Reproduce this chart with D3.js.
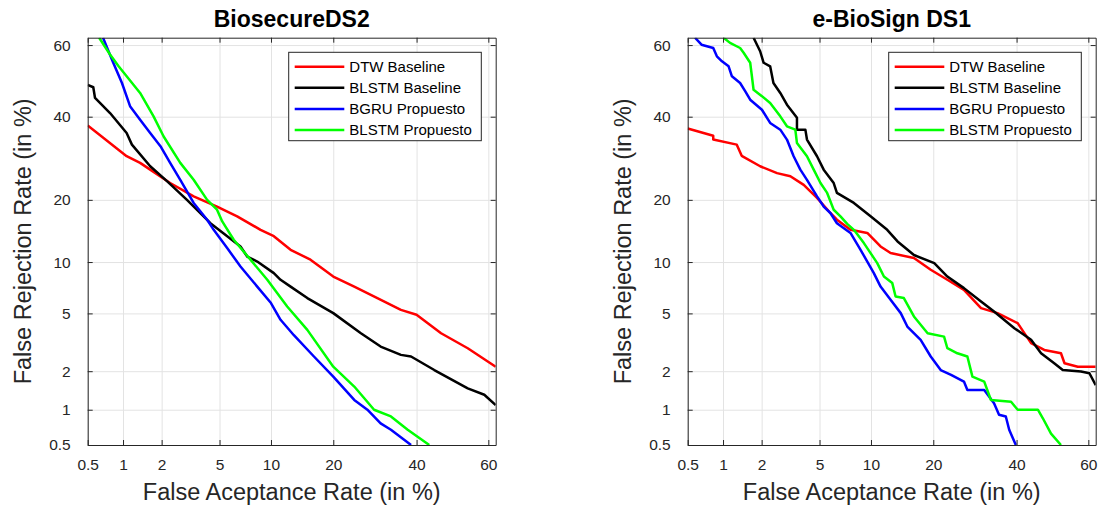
<!DOCTYPE html>
<html lang="en">
<head>
<meta charset="utf-8">
<title>DET curves</title>
<script src="https://d3js.org/d3.v7.min.js"></script>
<style>
  body { margin: 0; background: #fff; }
  text { font-family: "Liberation Sans", Arial, sans-serif; }
</style>
</head>
<body>
<script>
// tick values (in %) shared by both axes
var tickValues = [0.5, 1, 2, 5, 10, 20, 40, 60];
var tickLabels = ["0.5", "1", "2", "5", "10", "20", "40", "60"];
var axisMin = 0.5, axisMax = 62;

var seriesNames = ["DTW Baseline", "BLSTM Baseline", "BGRU Propuesto", "BLSTM Propuesto"];
var seriesColors = ["#ff0000", "#000000", "#0000ff", "#00ff00"];
var titles = ["BiosecureDS2", "e-BioSign DS1"];

// [FAR %, FRR %]
var ds2Dtw = [[0.5,37.6],[1.07,29.7],[1.37,28.1],[1.64,26.5],[2.31,23.5],[3.38,20.7],[4.82,18.7],[6.42,16.9],[8.77,14.6],[10.36,13.6],[12.65,11.6],[15.8,10.3],[20,8.32],[24.4,7.28],[29.8,6.22],[35.8,5.26],[40,4.9],[46.8,3.71],[54.3,2.93],[62,2.16]];
var ds2Blstm = [[0.5,48.9],[0.56,48.2],[0.58,45.2],[0.78,41.0],[1.07,35.6],[1.18,32.6],[1.64,27.3],[2.19,23.9],[3.04,20.0],[4.37,15.7],[6.72,12.07],[7.36,10.7],[8.4,10.06],[10.36,8.69],[11.24,7.97],[12.65,7.28],[15.27,6.22],[20,5.02],[25.9,3.71],[30.6,3.01],[35.8,2.63],[38.5,2.56],[44.9,2.04],[54.3,1.48],[58.9,1.32],[62,1.09]];
var ds2Bgru = [[0.68,62],[0.83,55.1],[0.98,49.4],[1.14,42.9],[1.37,39.2],[1.64,35.6],[1.96,32.2],[2.31,28.1],[2.73,24.2],[3.38,19.4],[4.16,16.3],[4.59,14.6],[5.58,11.85],[6.72,9.46],[8.4,7.28],[10,5.8],[11.24,4.55],[13.14,3.6],[16.4,2.56],[20,1.82],[24.4,1.2],[27.4,1.0],[30.6,0.77],[33.2,0.68],[38.5,0.5]];
var ds2BlstmP = [[0.63,62],[0.78,57.4],[0.92,54.1],[1.07,51.3],[1.37,46.6],[1.74,40.1],[2.07,34.7],[2.73,28.1],[3.38,24.2],[4.16,20.0],[4.82,18.1],[5.2,16.0],[6.12,13.05],[7.69,10.3],[9.55,7.97],[12.16,5.52],[15.27,3.91],[20,2.16],[24.4,1.53],[29.0,1.0],[33.2,0.88],[37.6,0.68],[43.5,0.5]];

var ebsDtw = [[0.5,36.8],[0.83,34.9],[0.83,33.9],[1.29,32.6],[1.41,29.8],[1.95,27.3],[2.59,25.7],[3.21,25.0],[3.95,23.1],[4.82,20.4],[5.84,17.5],[6.4,16.3],[7.69,14.6],[9.55,14.1],[11.24,12.07],[12.65,11.16],[16.4,10.5],[19.5,9.07],[22.9,7.97],[26.6,6.97],[30.7,5.4],[34.9,5.02],[40.3,4.33],[44.0,3.18],[47.7,2.85],[52.4,2.7],[53.4,2.29],[57.1,2.16],[62,2.16]];
var ebsBlstm = [[1.74,62],[1.95,58.3],[2.07,55.1],[2.31,54.1],[2.44,49.4],[2.73,46.6],[3.04,43.3],[3.56,39.7],[3.56,36.5],[4.05,36.5],[4.15,33.9],[4.82,29.7],[5.31,26.5],[6.12,23.5],[6.4,21.4],[8.04,19.4],[9.95,16.9],[12.16,14.6],[13.7,12.8],[16.4,10.9],[20.2,9.87],[22.9,8.32],[26.6,7.13],[30.7,5.93],[34.0,5.14],[39.4,4.01],[44.0,3.35],[46.8,2.7],[50.5,2.29],[52.9,2.04],[58.0,1.99],[60.3,1.93],[62,1.57]];
var ebsBgru = [[0.58,62],[0.66,60.1],[0.83,59.2],[0.89,56.9],[0.98,55.5],[1.11,54.1],[1.18,51.3],[1.37,49.4],[1.5,47.1],[1.64,44.7],[2.01,41.9],[2.31,38.3],[2.73,36.5],[3.04,33.9],[3.38,29.7],[3.75,26.5],[4.15,24.2],[4.82,20.7],[5.31,18.7],[5.84,17.5],[6.4,15.7],[7.69,14.1],[8.77,11.6],[10.36,8.69],[11.24,7.28],[12.65,6.07],[14.2,5.02],[15.27,4.11],[17.6,3.35],[19.5,2.56],[21.5,2.04],[23.7,1.88],[26.6,1.67],[27.4,1.44],[31.5,1.44],[34.0,1.13],[35.3,0.91],[37.1,0.88],[38.0,0.68],[39.8,0.5]];
var ebsBlstmP = [[1.01,62],[1.14,60.6],[1.37,59.2],[1.46,57.9],[1.64,55.1],[1.69,51.3],[1.74,47.5],[2.01,45.7],[2.31,43.8],[2.73,40.1],[3.04,37.4],[3.47,36.5],[3.56,33.0],[4.15,29.7],[4.59,26.5],[5.07,23.5],[5.58,21.4],[6.12,18.1],[6.72,16.9],[7.36,15.6],[8.04,14.6],[9.15,12.56],[10.8,9.87],[11.7,8.32],[12.9,7.63],[13.4,6.36],[14.7,6.22],[16.4,4.78],[18.9,3.71],[22.2,3.52],[22.9,2.93],[25.1,2.7],[27.4,2.56],[28.6,1.82],[31.5,1.67],[33.2,1.2],[38.5,1.16],[40.3,1.0],[45.9,1.0],[47.3,0.85],[49.6,0.63],[52.4,0.5]];

var panelData = [
    [ds2Dtw, ds2Blstm, ds2Bgru, ds2BlstmP],
    [ebsDtw, ebsBlstm, ebsBgru, ebsBlstmP]
];

// inverse normal cdf (Acklam), input in percent
function probit(pct) {
    var p = pct / 100;
    var a = [-3.969683028665376e+01, 2.209460984245205e+02, -2.759285104469687e+02, 1.383577518672690e+02, -3.066479806614716e+01, 2.506628277459239e+00];
    var b = [-5.447609879822406e+01, 1.615858368580409e+02, -1.556989798598866e+02, 6.680131188771972e+01, -1.328068155288572e+01];
    var c = [-7.784894002430293e-03, -3.223964580411365e-01, -2.400758277161838e+00, -2.549732539343734e+00, 4.374664141464968e+00, 2.938163982698783e+00];
    var d = [7.784695709041462e-03, 3.224671290700398e-01, 2.445134137142996e+00, 3.754408661907416e+00];
    var plow = 0.02425, q, r;
    if (p < plow) {
        q = Math.sqrt(-2 * Math.log(p));
        return (((((c[0]*q+c[1])*q+c[2])*q+c[3])*q+c[4])*q+c[5]) / ((((d[0]*q+d[1])*q+d[2])*q+d[3])*q+1);
    }
    if (p <= 1 - plow) {
        q = p - 0.5; r = q * q;
        return (((((a[0]*r+a[1])*r+a[2])*r+a[3])*r+a[4])*r+a[5])*q / (((((b[0]*r+b[1])*r+b[2])*r+b[3])*r+b[4])*r+1);
    }
    q = Math.sqrt(-2 * Math.log(1 - p));
    return -(((((c[0]*q+c[1])*q+c[2])*q+c[3])*q+c[4])*q+c[5]) / ((((d[0]*q+d[1])*q+d[2])*q+d[3])*q+1);
}

var width = 1099, height = 508;
var plotW = 408, plotH = 407.3;
var left0 = 87.7, top0 = 37.7, panelStep = 600;
var axisColor = "#262626";

var svg = d3.select("body").append("svg")
    .attr("width", width)
    .attr("height", height);

var x = d3.scaleLinear().domain([probit(axisMin), probit(axisMax)]).range([0, plotW]);
var y = d3.scaleLinear().domain([probit(axisMin), probit(axisMax)]).range([plotH, 0]);
var tickPos = tickValues.map(probit);

panelData.forEach(function (series, pi) {
    var g = svg.append("g")
        .attr("transform", "translate(" + (left0 + pi * panelStep) + "," + top0 + ")");

    g.append("clipPath").attr("id", "clip" + pi)
        .append("rect").attr("width", plotW).attr("height", plotH);

    // grid
    g.append("g")
        .attr("transform", "translate(0," + plotH + ")")
        .call(d3.axisBottom(x).tickValues(tickPos).tickSize(-plotH).tickFormat(""))
        .call(function (s) {
            s.select(".domain").remove();
            s.selectAll("line").attr("stroke", "#e3e3e3");
        });
    g.append("g")
        .call(d3.axisLeft(y).tickValues(tickPos).tickSize(-plotW).tickFormat(""))
        .call(function (s) {
            s.select(".domain").remove();
            s.selectAll("line").attr("stroke", "#e3e3e3");
        });

    // curves
    var line = d3.line()
        .x(function (d) { return x(probit(d[0])); })
        .y(function (d) { return y(probit(d[1])); });

    g.append("g").attr("clip-path", "url(#clip" + pi + ")")
        .selectAll("path")
        .data(series)
        .join("path")
        .attr("d", line)
        .attr("fill", "none")
        .attr("stroke", function (d, i) { return seriesColors[i]; })
        .attr("stroke-width", 2.5)
        .attr("stroke-linejoin", "round");

    // axes with inward ticks on all four sides
    function styleAxis(s) {
        s.select(".domain").attr("stroke", axisColor);
        s.selectAll(".tick line").attr("stroke", axisColor);
        s.selectAll(".tick text").attr("fill", axisColor).style("font-size", "15.5px");
    }
    var fmt = function (d, i) { return tickLabels[i]; };

    g.append("g")
        .attr("transform", "translate(0," + plotH + ")")
        .call(d3.axisBottom(x).tickValues(tickPos).tickFormat(fmt).tickSizeInner(-5).tickSizeOuter(0).tickPadding(14))
        .call(styleAxis);
    g.append("g")
        .call(d3.axisLeft(y).tickValues(tickPos).tickFormat(fmt).tickSizeInner(-5).tickSizeOuter(0).tickPadding(17))
        .call(styleAxis);
    g.append("g")
        .call(d3.axisTop(x).tickValues(tickPos).tickFormat("").tickSizeInner(-5).tickSizeOuter(0))
        .call(styleAxis);
    g.append("g")
        .attr("transform", "translate(" + plotW + ",0)")
        .call(d3.axisRight(y).tickValues(tickPos).tickFormat("").tickSizeInner(-5).tickSizeOuter(0))
        .call(styleAxis);

    // title and labels
    g.append("text")
        .attr("x", plotW / 2).attr("y", -11)
        .attr("text-anchor", "middle")
        .style("font-size", "23px").style("font-weight", "bold")
        .attr("fill", "#000")
        .text(titles[pi]);

    g.append("text")
        .attr("x", plotW / 2).attr("y", plotH + 55)
        .attr("text-anchor", "middle")
        .style("font-size", "23.5px")
        .attr("fill", axisColor)
        .text("False Aceptance Rate (in %)");

    g.append("text")
        .attr("transform", "translate(-57," + (plotH / 2) + ") rotate(-90)")
        .attr("text-anchor", "middle")
        .style("font-size", "23.5px")
        .attr("fill", axisColor)
        .text("False Rejection Rate (in %)");

    // legend
    var lg = g.append("g").attr("transform", "translate(201,14.6)");
    lg.append("rect")
        .attr("width", 192.6).attr("height", 88.4)
        .attr("fill", "#fff").attr("stroke", axisColor).attr("stroke-width", 1);
    var item = lg.selectAll("g.item")
        .data(seriesNames)
        .join("g")
        .attr("class", "item")
        .attr("transform", function (d, i) { return "translate(0," + (14.4 + i * 21.1) + ")"; });
    item.append("line")
        .attr("x1", 6).attr("x2", 55.6)
        .attr("stroke", function (d, i) { return seriesColors[i]; })
        .attr("stroke-width", 2.5);
    item.append("text")
        .attr("x", 60.6).attr("dy", "0.35em")
        .style("font-size", "15px")
        .attr("fill", "#000")
        .text(function (d) { return d; });
});
</script>
</body>
</html>
